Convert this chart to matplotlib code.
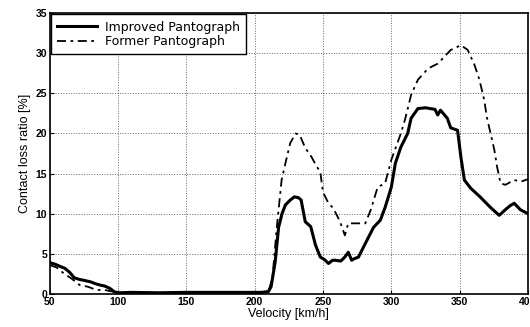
import numpy as np
import matplotlib.pyplot as plt

# improved pantograph (solid)
v_imp = [50, 54, 58, 61, 64.5, 68, 72, 75, 80, 83, 87, 90, 94, 97, 100, 110, 130, 150,
         170, 190, 205, 210, 212, 215, 217.5, 220, 222.5, 226, 229, 232, 234, 237, 241,
         244.5, 248, 251, 254, 257, 259, 263, 266, 268.5, 271, 273, 276, 281, 287, 292,
         295.5, 300, 303, 307, 312, 314.5, 319.5, 325, 332, 334, 336, 341, 343.5, 348.5,
         351, 353.5, 358, 365, 372.5, 379, 383.5, 387, 390, 394.5, 400]
imp = [3.9, 3.7, 3.4, 3.2, 2.7, 2.0, 1.8, 1.7, 1.5, 1.3, 1.1, 1.0, 0.7, 0.3, 0.15, 0.2, 0.15,
       0.2, 0.2, 0.2, 0.2, 0.3, 0.9, 4.0, 8.3, 10.0, 11.1, 11.7, 12.1, 12.0, 11.7, 9.0, 8.4,
       6.1, 4.6, 4.3, 3.8, 4.2, 4.2, 4.1, 4.6, 5.2, 4.2, 4.4, 4.6, 6.3, 8.3, 9.2, 10.8,
       13.3, 16.3, 18.3, 20.0, 21.9, 23.1, 23.2, 23.0, 22.3, 22.9, 21.9, 20.7, 20.4,
       17.0, 14.2, 13.2, 12.1, 10.8, 9.8, 10.5, 11.0, 11.3, 10.5, 10.0]

# former pantograph (dash-dot)
v_form = [50, 55, 60, 66, 72, 78, 84, 90, 96, 100, 120, 150, 180, 205, 210, 213, 216,
          219.7, 222.5, 226, 230, 233, 237, 241.5, 245, 248, 250, 254, 257.5, 262.5,
          266, 268.5, 275, 281, 285, 290, 295.5, 300, 307, 310, 314.5, 319.5, 327, 334,
          338, 343.5, 351, 356, 361, 364.5, 368, 370, 375.5, 377.5, 380, 383.5, 390,
          395, 400]
form = [3.6, 3.3, 2.6, 1.9, 1.1, 0.9, 0.5, 0.5, 0.3, 0.1, 0.1, 0.1, 0.1, 0.1, 0.3, 2.0,
        8.0, 14.2, 16.3, 18.8, 20.0, 19.8, 18.2, 17.1, 16.0, 15.2, 12.7, 11.3, 10.7, 9.0,
        7.3, 8.8, 8.8, 8.8, 10.5, 13.3, 13.8, 16.7, 20.0, 21.7, 24.8, 26.7, 28.1, 28.7,
        29.4, 30.4, 31.0, 30.4, 28.5, 26.7, 24.2, 22.0, 17.9, 15.8, 13.8, 13.6, 14.2,
        14.0, 14.3]

plt.rcParams['font.family'] = ['Liberation Sans', 'DejaVu Sans']

fig = plt.figure(figsize=(5.3, 3.27), dpi=100)
ax = fig.add_axes([0.094, 0.101, 0.902, 0.859])

ax.plot(v_imp, imp, color='black', lw=2.2, ls='-', label='Improved Pantograph')
ax.plot(v_form, form, color='black', lw=1.3, ls=(0, (5, 2.5, 1.5, 2.5)),
        label='Former Pantograph')

ax.set_xlim(50, 400)
ax.set_ylim(0, 35)
ax.set_xticks(np.arange(50, 401, 50))
ax.set_yticks(np.arange(0, 36, 5))
ax.tick_params(direction='in', length=3, labelsize=7.5, pad=2)
for lbl in ax.get_xticklabels() + ax.get_yticklabels():
    lbl.set_fontweight('bold')
ax.grid(True, ls=':', color='black', lw=0.7, alpha=0.6)
for s in ax.spines.values():
    s.set_linewidth(1.2)

ax.set_xlabel('Velocity [km/h]', fontsize=9, labelpad=1)
ax.set_ylabel('Contact loss ratio [%]', fontsize=9, labelpad=3)

leg = ax.legend(loc='upper left', frameon=True, fancybox=False,
                prop={'family': 'DejaVu Sans', 'size': 9},
                borderaxespad=0.1, handlelength=3.2, handletextpad=0.6,
                borderpad=0.5, labelspacing=0.12,
                edgecolor='black', framealpha=1)
leg.get_frame().set_linewidth(1.0)

fig.savefig('out.png', dpi=100)
